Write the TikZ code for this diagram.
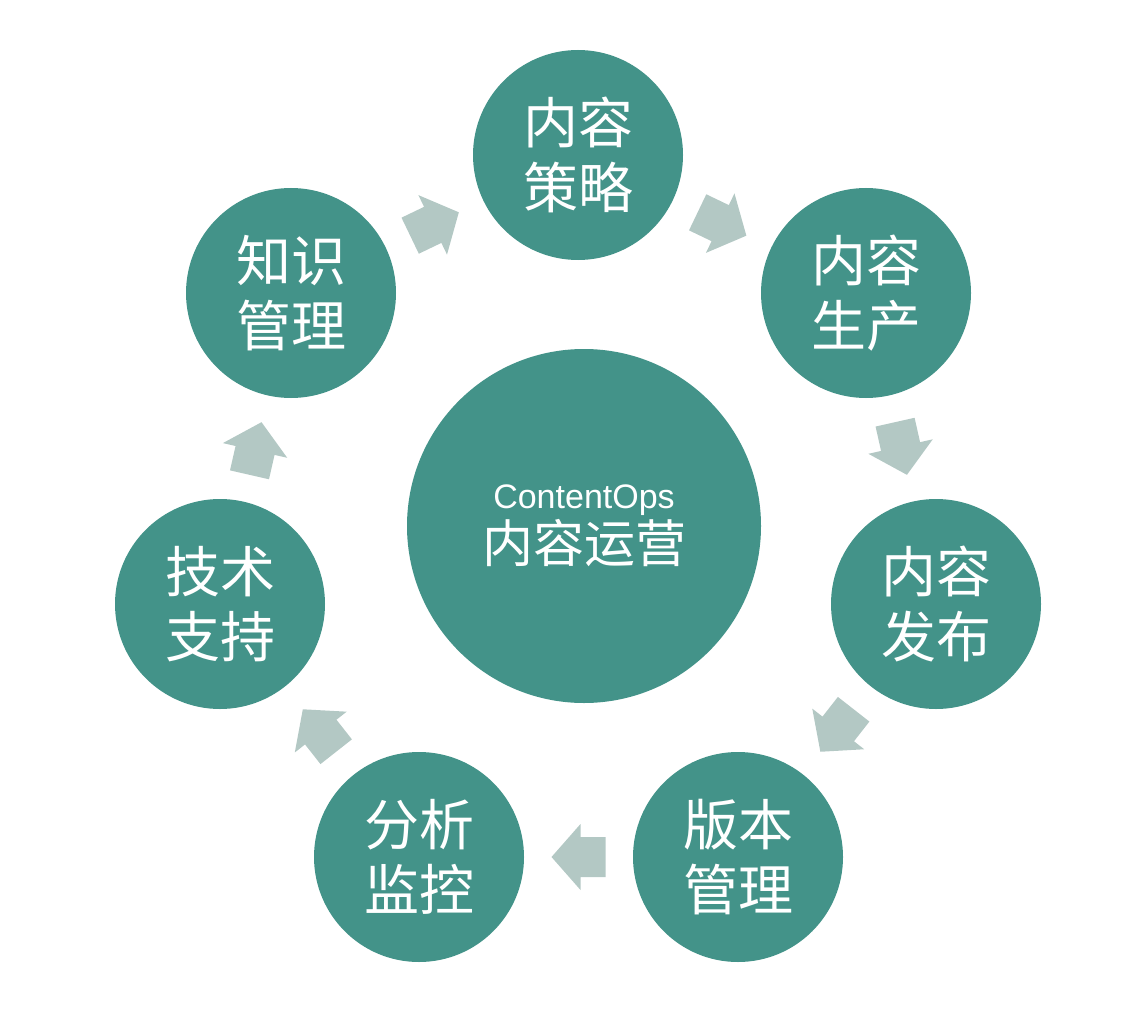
\documentclass[tikz,border=0pt]{standalone}
\usepackage{fontspec}
\newfontfamily\cjk{Noto Sans CJK SC}
\newfontfamily\latinsans{Liberation Sans}
\usetikzlibrary{calc}
\definecolor{cteal}{RGB}{67,147,137}
\definecolor{carrow}{RGB}{179,200,196}
\newcommand\stageflow[2]{\path let \p1=($(#2)-(#1)$), \n1={atan2(\y1,\x1)} in pic[rotate=\n1] at ($(#1)!0.5!(#2)$) {blockarrow};}
\begin{document}
\begin{tikzpicture}[x=1pt,y=-1pt,
  stage/.style={circle, fill=cteal, text=white, minimum size=210pt, inner sep=0pt, align=center, font=\cjk\fontsize{55}{65}\selectfont},
  hub/.style={circle, fill=cteal, text=white, minimum size=354pt, inner sep=0pt, align=center},
  blockarrow/.pic={\fill[carrow] (-27,-20) -- (-2,-20) -- (-2,-33) -- (27,0) -- (-2,33) -- (-2,20) -- (-27,20) -- cycle;}]
\useasboundingbox (0,0) rectangle (1134,1032);
\node[hub] (hub) at (584,526) {{\latinsans\fontsize{34}{40}\selectfont ContentOps}\\[3pt]{\cjk\fontsize{51}{55}\selectfont 内容运营}};
\node[stage] (strat) at (578,155) {内容\\策略};
\node[stage] (prod) at (866,293) {内容\\生产};
\node[stage] (pub) at (936,604) {内容\\发布};
\node[stage] (ver) at (738,857) {版本\\管理};
\node[stage] (ana) at (419,857) {分析\\监控};
\node[stage] (tech) at (220,604) {技术\\支持};
\node[stage] (know) at (291,293) {知识\\管理};
\stageflow{know}{strat}
\stageflow{strat}{prod}
\stageflow{prod}{pub}
\stageflow{pub}{ver}
\stageflow{ver}{ana}
\stageflow{ana}{tech}
\stageflow{tech}{know}
\end{tikzpicture}
\end{document}
